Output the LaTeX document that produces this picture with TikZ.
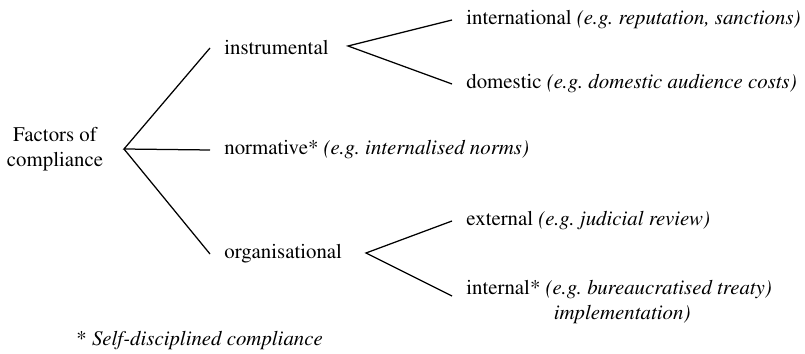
\documentclass[tikz,border=0pt]{standalone}
\usepackage[T1]{fontenc}
\usepackage{mathptmx}

\tikzset{
  factor/.style={anchor=west, inner xsep=6.7pt, inner ysep=2pt, font=\rmfamily},
  branch/.style={line width=0.6pt},
}
\newcommand{\eg}[1]{\textit{(e.g.\ #1)}}

\begin{document}
\begin{tikzpicture}[x=0.48pt, y=-0.48pt]
  \useasboundingbox (0,0) rectangle (805,354);

  % Define nodes
  \node[factor, anchor=center, align=center] (root) at (55,149) {Factors of\\compliance};
  \node[factor] (instr) at (210,48) {instrumental};
  \node[factor] (norm) at (210,150) {normative* \eg{internalised norms}};
  \node[factor] (org) at (210,254) {organisational};
  \node[factor] (intl) at (452,20) {international \eg{reputation, sanctions}};
  \node[factor] (dom) at (452,84) {domestic \eg{domestic audience costs}};
  \node[factor] (ext) at (452,221) {external \eg{judicial review}};
  \node[factor, anchor=north west, align=left] (int) at (452,276)
    {internal* \eg{bureaucratised treaty}\\\hspace{42pt}\textit{implementation)}};
  \node[factor] (note) at (62,341) {* \textit{Self-disciplined compliance}};

  \coordinate (rb) at (124,149);
  \coordinate (ib) at (348,46);
  \coordinate (ob) at (366,253);

  % Connect the nodes
  \draw[branch] (instr.west) -- (rb) -- (norm.west);
  \draw[branch] (rb) -- (org.west);
  \draw[branch] (intl.west) -- (ib) -- (dom.west);
  \draw[branch] (ext.west) -- (ob) -- ([yshift=-9.6pt]int.north west);

\end{tikzpicture}
\end{document}
